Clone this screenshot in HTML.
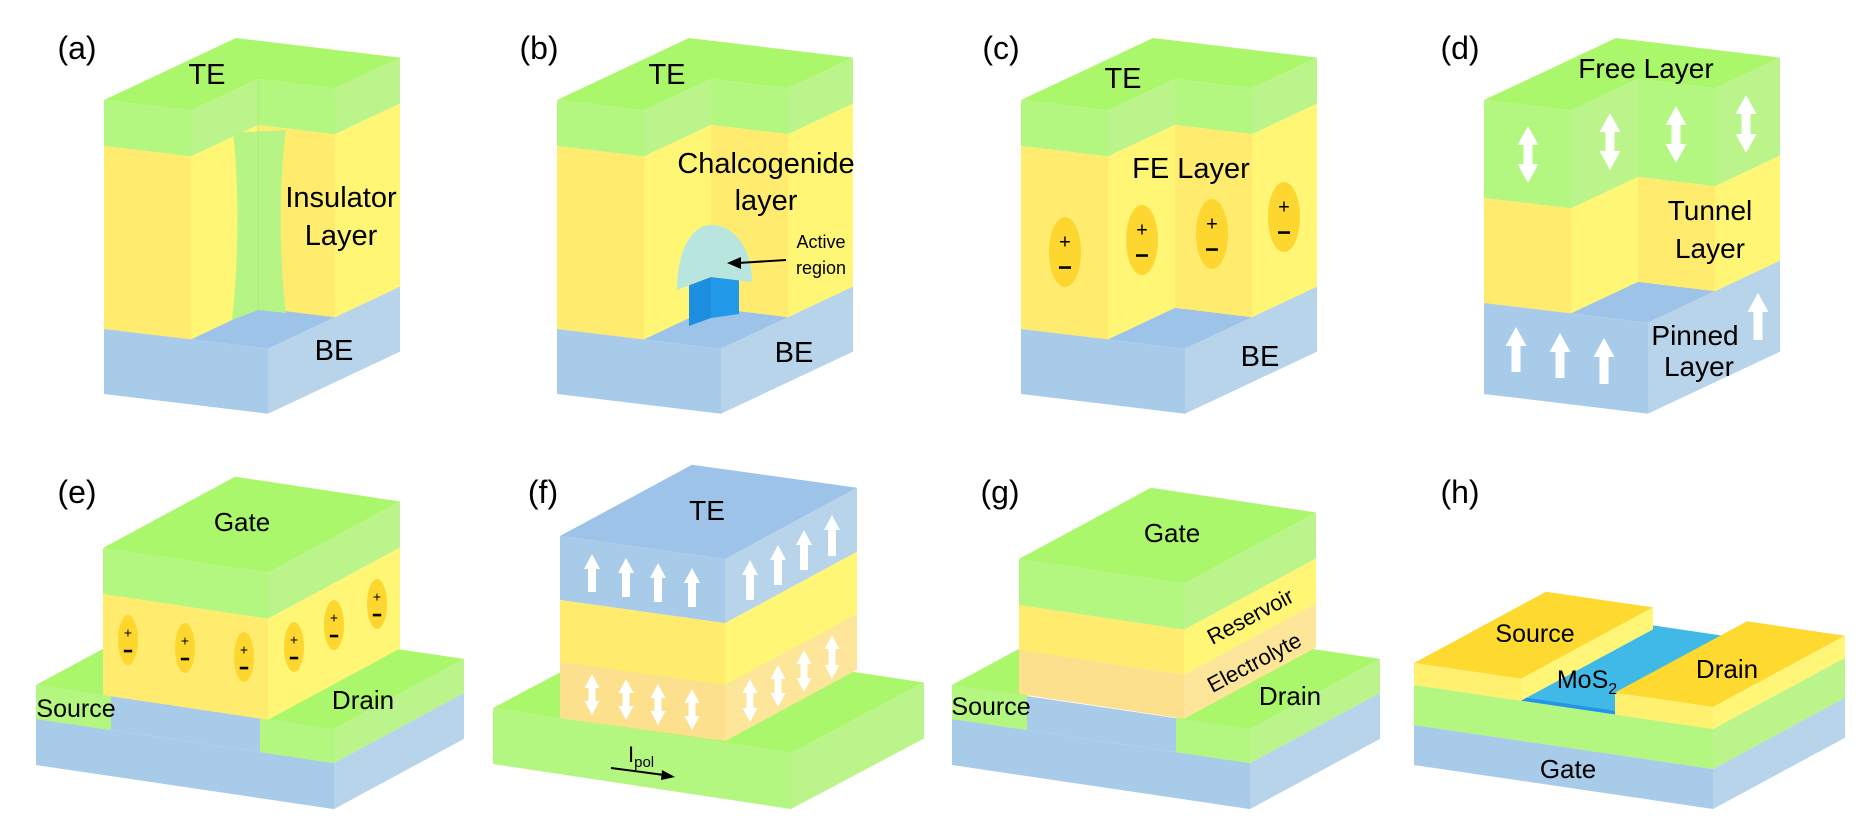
<!DOCTYPE html>
<html><head><meta charset="utf-8"><style>
html,body{margin:0;padding:0;background:#fff}
svg{display:block}
text{font-family:"Liberation Sans",Arial,sans-serif;fill:#000}
</style></head><body>
<svg id="s" xmlns="http://www.w3.org/2000/svg" width="1856" height="824" viewBox="0 0 1856 824">
<g id="shapes"></g>
<g id="over"></g>
<g id="labels">
<text x="77" y="59" font-size="32" text-anchor="middle">(a)</text>
<text x="539" y="59" font-size="32" text-anchor="middle">(b)</text>
<text x="1001" y="59" font-size="32" text-anchor="middle">(c)</text>
<text x="1460" y="59" font-size="32" text-anchor="middle">(d)</text>
<text x="77" y="503" font-size="32" text-anchor="middle">(e)</text>
<text x="543" y="503" font-size="32" text-anchor="middle">(f)</text>
<text x="1000" y="503" font-size="32" text-anchor="middle">(g)</text>
<text x="1460" y="503" font-size="32" text-anchor="middle">(h)</text>

<text x="207" y="84" font-size="29" text-anchor="middle">TE</text>
<text x="341" y="207" font-size="29" text-anchor="middle">Insulator</text>
<text x="341" y="245" font-size="29" text-anchor="middle">Layer</text>
<text x="334" y="360" font-size="29" text-anchor="middle">BE</text>

<text x="667" y="84" font-size="29" text-anchor="middle">TE</text>
<text x="766" y="173" font-size="29" text-anchor="middle">Chalcogenide</text>
<text x="766" y="210" font-size="29" text-anchor="middle">layer</text>
<text x="821" y="248" font-size="18" text-anchor="middle">Active</text>
<text x="821" y="274" font-size="18" text-anchor="middle">region</text>
<text x="794" y="362" font-size="29" text-anchor="middle">BE</text>

<text x="1123" y="88" font-size="29" text-anchor="middle">TE</text>
<text x="1191" y="178" font-size="29" text-anchor="middle">FE Layer</text>
<text x="1260" y="366" font-size="29" text-anchor="middle">BE</text>

<text x="1646" y="78" font-size="28" text-anchor="middle">Free Layer</text>
<text x="1710" y="220" font-size="28" text-anchor="middle">Tunnel</text>
<text x="1710" y="258" font-size="28" text-anchor="middle">Layer</text>
<text x="1695" y="345" font-size="28" text-anchor="middle">Pinned</text>
<text x="1699" y="376" font-size="28" text-anchor="middle">Layer</text>

<text x="242" y="531" font-size="26" text-anchor="middle">Gate</text>
<text x="76" y="717" font-size="25" text-anchor="middle">Source</text>
<text x="363" y="709" font-size="26" text-anchor="middle">Drain</text>

<text x="707" y="520" font-size="28" text-anchor="middle">TE</text>
<text x="628" y="762" font-size="22">I<tspan font-size="15" dy="5">pol</tspan></text>

<text x="1172" y="542" font-size="26" text-anchor="middle">Gate</text>
<text x="991" y="715" font-size="25" text-anchor="middle">Source</text>
<text x="1290" y="705" font-size="26" text-anchor="middle">Drain</text>
<text x="1250" y="624" font-size="22" text-anchor="middle" transform="rotate(-28 1250 616)">Reservoir</text>
<text x="1254" y="670" font-size="22" text-anchor="middle" transform="rotate(-28 1254 662)">Electrolyte</text>

<text x="1535" y="642" font-size="25" text-anchor="middle">Source</text>
<text x="1587" y="688" font-size="25" text-anchor="middle">MoS<tspan font-size="16" dy="6">2</tspan></text>
<text x="1727" y="678" font-size="26" text-anchor="middle">Drain</text>
<text x="1568" y="778" font-size="26" text-anchor="middle">Gate</text>
</g>
</svg>
<script>
(function(){
var NS="http://www.w3.org/2000/svg";
var G=document.getElementById('shapes');
var O=document.getElementById('over');
function el(par,tag,a){var e=document.createElementNS(NS,tag);for(var k in a)e.setAttribute(k,a[k]);par.appendChild(e);return e;}
function P(o,u,v,z){return [o.x+u+v,o.y+o.su*u+o.sv*v+z];}
function poly(pts,fill,par){el(par||G,'polygon',{points:pts.map(function(p){return p[0].toFixed(1)+','+p[1].toFixed(1)}).join(' '),fill:fill});}
function q(o,list,fill){poly(list.map(function(t){return P(o,t[0],t[1],t[2]);}),fill);}
var C={
 g:{t:'#abf76c',f:'#b3f680',s:'#bbf48b'},
 y:{t:'#fed930',f:'#ffec6f',s:'#fff676'},
 b:{t:'#9dc4e8',f:'#a8cbea',s:'#b8d4ea'},
 o:{t:'#fde08e',f:'#fde08e',s:'#fde599'},
 h:{t:'#fed930',f:'#fff070',s:'#fff576'}
};
function front(o,u0,u1,v,z0,z1,c){q(o,[[u0,v,z0],[u1,v,z0],[u1,v,z1],[u0,v,z1]],c);}
function side(o,u,v0,v1,z0,z1,c){q(o,[[u,v0,z0],[u,v1,z0],[u,v1,z1],[u,v0,z1]],c);}
function top(o,u0,u1,v0,v1,z,c){q(o,[[u0,v0,z],[u1,v0,z],[u1,v1,z],[u0,v1,z]],c);}
function box(o,u0,u1,v0,v1,z0,z1,c,t){if(t)top(o,u0,u1,v0,v1,z0,c.t);front(o,u0,u1,v0,z0,z1,c.f);side(o,u1,v0,v1,z0,z1,c.s);}

// top row notched blocks
function notched(x,layers,base){
 var o={x:x,y:100,su:.12,sv:-.47},U=164,V=132,A=87,N=67;
 box(o,0,U,0,V,base[0],base[1],C.b,true);
 layers.forEach(function(L,i){
  var c=C[L[2]];
  if(i==0)q(o,[[0,0,0],[0,V,0],[U,V,0],[U,N,0],[A,N,0],[A,0,0]],c.t);
  front(o,0,A,0,L[0],L[1],c.f);
  side(o,A,0,N,L[0],L[1],c.s);
  front(o,A,U,N,L[0],L[1],c.f);
  side(o,U,N,V,L[0],L[1],c.s);
 });
 return o;
}
notched(104,[[0,46,'g'],[46,229,'y']],[229,294]);
// filament (a)
el(G,'path',{d:'M233,133 L286,130 C279,180 279,260 286,313 L258,310 L232,320 C239,260 239,180 233,133 Z',fill:'#b6f585'});
el(G,'line',{x1:258,y1:80,x2:258,y2:310,stroke:'#a9ef7a','stroke-width':1});
notched(557,[[0,46,'g'],[46,229,'y']],[229,294]);
// active region (b)
el(G,'polygon',{points:'689,285 711,277 711,318 689,326',fill:'#1e8fe0'});
el(G,'polygon',{points:'711,277 739,280 739,314 711,318',fill:'#2299e8'});
el(G,'path',{d:'M677,290 C677,250 692,225 711,225 C736,225 752,250 752,282 L711,277 Z',fill:'#b8e6de'});
el(O,'line',{x1:786,y1:260,x2:738,y2:263,stroke:'#000','stroke-width':2});
el(O,'polygon',{points:'727,263 741,257 741,269',fill:'#000'});
notched(1021,[[0,46,'g'],[46,229,'y']],[229,294]);
notched(1484,[[0,98,'g'],[98,203,'y']],[203,294]);

function dip(cx,cy,rx,ry,fs){
 el(O,'ellipse',{cx:cx,cy:cy,rx:rx,ry:ry,fill:'#fed630'});
 var t=el(O,'text',{x:cx,y:cy-ry*0.3+fs*0.35,'font-size':fs,'text-anchor':'middle'});t.textContent='+';
 el(O,'rect',{x:cx-fs*0.3,y:cy+ry*0.45-1.5,width:fs*0.6,height:2.6,fill:'#000'});
}
dip(1065,252,16,35,20);dip(1142,240,16,35,20);dip(1212,234,16,35,20);dip(1284,217,16,35,20);

function up(cx,y0,y1,hw,sw,hl){el(O,'polygon',{points:[[cx,y0],[cx+hw/2,y0+hl],[cx+sw/2,y0+hl],[cx+sw/2,y1],[cx-sw/2,y1],[cx-sw/2,y0+hl],[cx-hw/2,y0+hl]].map(function(p){return p.join(',')}).join(' '),fill:'#fff'});}
function dbl(cx,y0,y1,hw,sw,hl){el(O,'polygon',{points:[[cx,y0],[cx+hw/2,y0+hl],[cx+sw/2,y0+hl],[cx+sw/2,y1-hl],[cx+hw/2,y1-hl],[cx,y1],[cx-hw/2,y1-hl],[cx-sw/2,y1-hl],[cx-sw/2,y0+hl],[cx-hw/2,y0+hl]].map(function(p){return p.join(',')}).join(' '),fill:'#fff'});}
[[1528,126,183],[1610,113,170],[1676,106,163],[1746,95,153]].forEach(function(a){dbl(a[0],a[1],a[2],21,9,19);});
[[1516,327,372],[1560,333,378],[1604,338,384],[1758,293,340]].forEach(function(a){up(a[0],a[1],a[2],21,9,19);});

// (e) and (g) bases
function fet(x,gy,gl){
 var o={x:x,y:685,su:.148,sv:-.54};
 box(o,0,298,0,130,34,80,C.b,false);
 front(o,0,298,0,0,34,C.b.f);
 top(o,0,75,0,130,0,C.g.t);front(o,0,75,0,0,34,C.g.f);
 box(o,224,298,0,130,0,34,C.g,true);
 var o2={x:x+67,y:gy,su:.15,sv:-.54},z=0;
 gl.forEach(function(L,i){box(o2,0,165,0,132,z,z+L[0],C[L[1]],i==0);z+=L[0];});
}
fet(36,548,[[46,'g'],[101,'y']]);
fet(952,559,[[46,'g'],[45,'y'],[44,'o']]);
[[128,640],[185,648],[244,657],[294,647],[334,625],[377,604]].forEach(function(a){dip(a[0],a[1],10,25,14);});

// (f)
(function(){
 var o={x:493,y:708,su:.151,sv:-.53};
 box(o,0,298,0,133,0,56,C.g,true);
 var o2={x:560,y:536,su:.14,sv:-.54};
 box(o2,0,165,0,132,0,64,C.b,true);
 box(o2,0,165,0,132,64,126,C.y,false);
 box(o2,0,165,0,132,126,182,C.o,false);
 [[592,554,592],[626,558,597],[658,563,602],[692,568,607],[750,560,600],[778,545,585],[804,530,570],[832,515,556]].forEach(function(a){up(a[0],a[1],a[2],16,8,15);});
 [[592,674,715],[626,679,720],[658,684,725],[692,689,730],[750,679,722],[778,665,707],[804,650,692],[832,635,679]].forEach(function(a){dbl(a[0],a[1],a[2],15,7,14);});
 el(O,'line',{x1:611,y1:768,x2:664,y2:775,stroke:'#000','stroke-width':2});
 el(O,'polygon',{points:'675,777 662,770 661,780',fill:'#000'});
})();

// (h)
(function(){
 var o={x:1414,y:663,su:.147,sv:-.54};
 box(o,0,299,0,132,62,102,C.b,false);
 box(o,0,299,0,132,22,62,C.g,false);
 top(o,107,201,0,132,18,'#40b9e6');
 front(o,107,201,0,18,22,'#2196e6');
 box(o,0,107,0,132,0,22,C.h,true);
 box(o,201,299,0,132,0,22,C.h,true);
})();
})();
</script>
</body></html>
